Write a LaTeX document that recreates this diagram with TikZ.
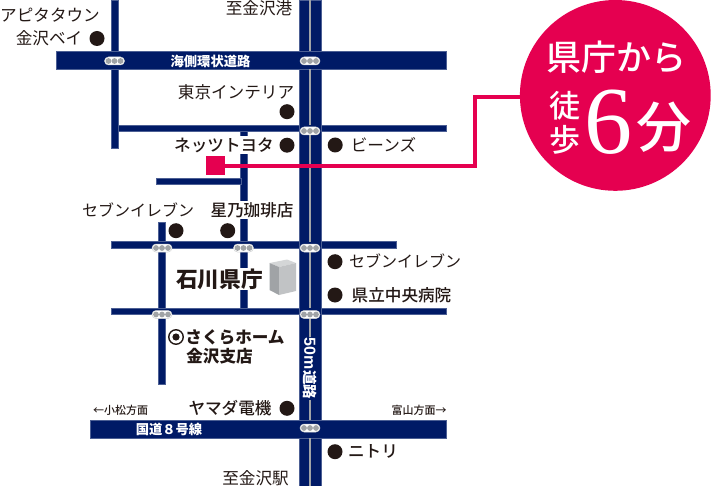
\documentclass[tikz,border=0pt]{standalone}
\usepackage{fontspec}
\setmainfont{Noto Sans CJK JP}
\newfontfamily\medfont{Noto Sans CJK JP Medium}
\newfontfamily\numfont{Liberation Serif}
\newfontfamily\latfont{Liberation Sans}[BoldFont={Liberation Sans Bold}]
\usetikzlibrary{positioning}
\definecolor{roadblue}{HTML}{001A66}
\definecolor{roadgray}{HTML}{A0A3A6}
\definecolor{dotblack}{HTML}{231815}
\definecolor{mapred}{HTML}{E50050}
\tikzset{
  road/.style={fill=roadblue, draw=roadblue!70!white, line width=0.3pt},
  midline/.style={draw=roadgray, line width=2pt},
  shop/.style={fill=dotblack, circle, inner sep=0pt, minimum size=15pt},
  place/.style={text=dotblack, inner sep=0pt, font=\fontsize{16.6}{16.6}\selectfont},
  placem/.style={text=dotblack, inner sep=1pt, fill=white, font=\fontsize{16.6}{16.6}\selectfont\medfont},
  placeb/.style={text=dotblack, inner sep=1pt, fill=white, font=\fontsize{16.6}{16.6}\selectfont\bfseries},
  roadname/.style={text=white, inner sep=0pt, font=\fontsize{13.3}{14}\selectfont\bfseries},
  way/.style={text=dotblack, inner sep=0pt, font=\fontsize{11}{11}\selectfont\medfont},
  walk/.style={text=white, inner sep=0pt},
  signal/.style={fill=white, draw=roadgray!50!white, line width=0.5pt, rounded corners=4pt, minimum width=20pt, minimum height=8pt, inner sep=0pt},
}
\begin{document}
\begin{tikzpicture}[x=1pt, y=-1pt]
    \useasboundingbox (0, 0) rectangle (711, 486);
    % roads
    \fill [road] (111, 0) rectangle (118, 148);
    \fill [road] (240.5, 131) rectangle (247, 308);
    \fill [road] (158, 222) rectangle (165, 384);
    \fill [road] (156, 178) rectangle (241, 184.5);
    \fill [road] (118, 125) rectangle (446, 131.5);
    \fill [road] (111, 241.5) rectangle (396, 248);
    \fill [road] (111, 308) rectangle (446, 314.5);
    \fill [road] (299, 0) rectangle (321, 486);
    \fill [road] (56, 51) rectangle (446, 69.5);
    \fill [road] (90, 420) rectangle (446, 438);
    % center line of the main road
    \foreach \ya/\yb in {0/51, 69.5/125, 131.5/241.5, 248/308, 314.5/420, 438/486}
        \draw [midline] (310, \ya) to (310, \yb);
    % signals
    \foreach \nm/\px/\py in {sa/114.5/61, sb/310/61, sc/310/131, sd/162/248, se/243.5/248, sf/310/248, sg/162/314.5, sh/310/314.5, si/310/428} {
        \node [signal] (\nm) at (\px, \py) {};
        \foreach \dx in {-6, 0, 6}
            \fill [roadgray] (\px+\dx, \py) circle (2.9pt);
    }
    % road names
    \node [roadname] (kaisoku) at (210.5, 61) {海側環状道路};
    \node [roadname] (kokudo) at (169, 429) {国道８号線};
    \node [roadname, rotate=-90, fill=roadblue, inner sep=1pt, font=\fontsize{14.5}{14.5}\selectfont\bfseries] (fifty) at (310, 368.5) {{\latfont\fontsize{16}{16}\selectfont\bfseries 50m}道路};
    % shops
    \node [shop] (d1) at (97, 38.5) {};
    \node [shop] (d2) at (287, 111.7) {};
    \node [shop] (d3) at (287, 145.2) {};
    \node [shop] (d4) at (335.2, 145) {};
    \node [shop] (d5) at (176, 230.7) {};
    \node [shop] (d6) at (227.7, 230.7) {};
    \node [shop] (d7) at (335, 261.7) {};
    \node [shop] (d8) at (335, 295) {};
    \node [shop] (d9) at (287, 408.3) {};
    \node [shop] (d10) at (335, 451.7) {};
    % labels
    \node [place] (apita) at (50, 15.5) {アピタタウン};
    \node [place] (bay) at (49, 38) {金沢ベイ};
    \node [place] (minato) at (259, 8) {至金沢港};
    \node [place] (tokyo) at (236, 92) {東京インテリア};
    \node [placem] (netz) at (224, 145) {ネッツトヨタ};
    \node [place] (beans) at (383.5, 145) {ビーンズ};
    \node [place, font=\fontsize{16}{16}\selectfont] (seven1) at (138, 210) {セブンイレブン};
    \node [placem] (hoshino) at (252, 210) {星乃珈琲店};
    \node [place, font=\fontsize{16}{16}\selectfont] (seven2) at (405, 261) {セブンイレブン};
    \node [placem] (chuo) at (401.5, 295) {県立中央病院};
    \node [placeb, font=\fontsize{21.7}{22}\selectfont\bfseries] (kencho) at (219.5, 279) {石川県庁};
    \node [placeb] (sakura) at (235, 337) {さくらホーム};
    \node [placeb] (shiten) at (219.5, 356) {金沢支店};
    \node [placem] (yamada) at (230, 408) {ヤマダ電機};
    \node [way] (komatsu) at (120.5, 410) {←小松方面};
    \node [way] (toyama) at (419, 410) {富山方面→};
    \node [placem, fill=none] (nitori) at (373, 451) {ニトリ};
    \node [place] (eki) at (255.5, 478) {至金沢駅};
    % sakura home mark
    \node [circle, draw=dotblack, line width=1.4pt, minimum size=14.5pt, inner sep=0pt] (ring) at (176, 337) {};
    \fill [dotblack] (ring) circle (3.6pt);
    % prefectural office
    \fill [roadgray!45!white] (269.5, 263) -- (287, 259.5) -- (296, 263) -- (279, 267) -- cycle;
    \fill [roadgray] (269.5, 263) -- (279, 267) -- (279, 295) -- (269.5, 290) -- cycle;
    \fill [roadgray!65!white] (279, 267) -- (296, 263) -- (296, 291) -- (279, 295) -- cycle;
    % walking time
    \node [fill=mapred, minimum size=18.5pt, inner sep=0pt] (office) at (215.3, 165.5) {};
    \node [circle, fill=mapred, minimum size=190.8pt, inner sep=0pt] (badge) at (615.3, 95.4) {};
    \coordinate (bendb) at (475, 166);
    \coordinate (benda) at (475, 97);
    \draw [mapred, line width=4pt] (office.east |- bendb) to (bendb) to (benda) to (badge.west |- benda);
    \node [walk, font=\fontsize{35}{35}\selectfont\medfont] (from) at (616.5, 57) {県庁から};
    \node [walk, font=\fontsize{31}{31}\selectfont\medfont] (toh) at (564.5, 106) {徒};
    \node [walk, font=\fontsize{31}{31}\selectfont\medfont] (ho) at (564.5, 140) {歩};
    \node [walk, font=\fontsize{96}{96}\selectfont\numfont] (six) at (608.5, 122.5) {6};
    \node [walk, font=\fontsize{55}{55}\selectfont\medfont] (fun) at (664, 127.5) {分};
\end{tikzpicture}
\end{document}
